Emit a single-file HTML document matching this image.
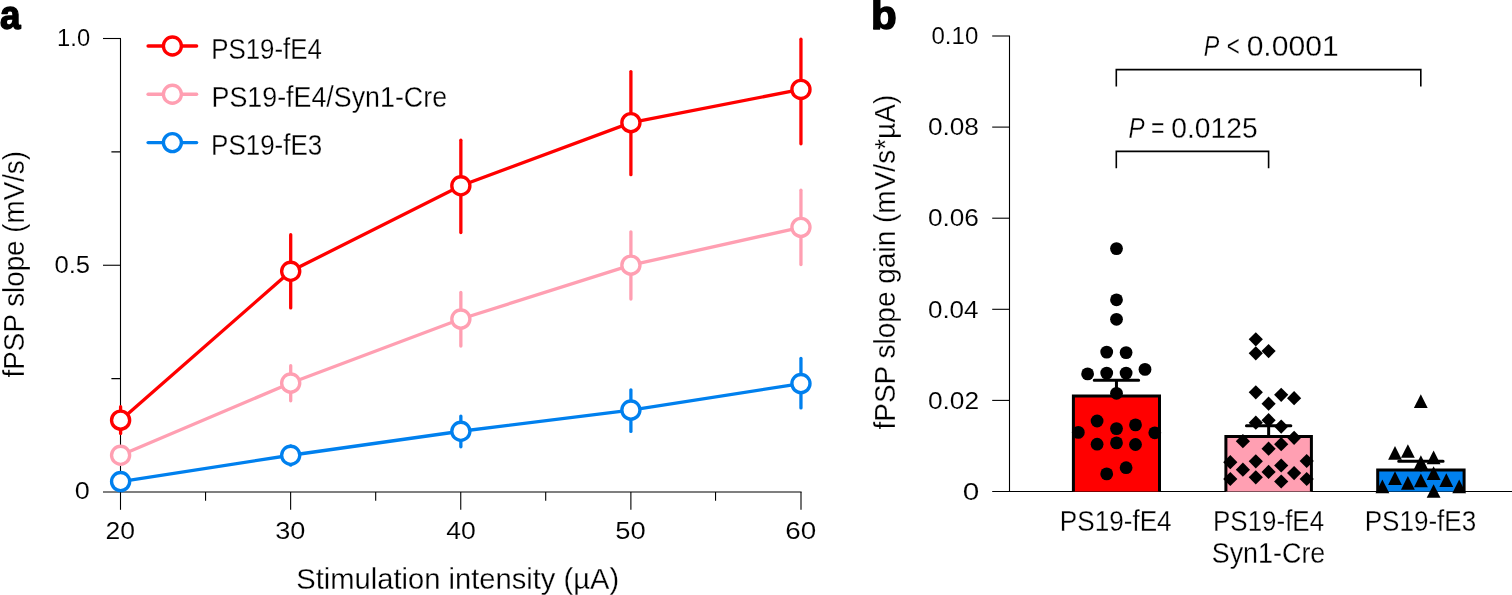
<!DOCTYPE html>
<html lang="en"><head><meta charset="utf-8"><title>fPSP slope figure</title>
<style>
html,body{margin:0;padding:0;background:#fff;}
body{width:1512px;height:595px;overflow:hidden;}
svg{display:block;}
svg text{font-family:"Liberation Sans",Arial,sans-serif;fill:#000;}
svg text.t{stroke:#fff;stroke-width:0.26px;}
svg text.k{stroke:#fff;stroke-width:0.1px;}
</style></head><body>
<svg width="1512" height="595" viewBox="0 0 1512 595">
<rect width="1512" height="595" fill="#fff"/>
<g stroke="#000" stroke-width="1.1" fill="none">
<path d="M120.5 38.5V492.0"/>
<path d="M103 38.5H121.0"/>
<path d="M103 265.25H120.5"/>
<path d="M111.4 151.9H120.5M111.4 378.6H120.5"/>
<path d="M103 492H801.6" stroke-width="1.2"/>
<path d="M120.5 492.0V509.8"/>
<path d="M290.63 492.0V509.8"/>
<path d="M460.75 492.0V509.8"/>
<path d="M630.88 492.0V509.8"/>
<path d="M801.0 492.0V509.8"/>
<path d="M205.56 492.0V500.7"/>
<path d="M375.69 492.0V500.7"/>
<path d="M545.70 492.0V500.7"/>
<path d="M715.55 492.0V500.7"/>
</g>
<text x="57.11" y="45.5" font-size="24.6" textLength="32.98" lengthAdjust="spacingAndGlyphs" class="k">1.0</text>
<text x="54.45" y="272.6" font-size="24.6" textLength="35.63" lengthAdjust="spacingAndGlyphs" class="k">0.5</text>
<text x="74.83" y="499.3" font-size="24.6" textLength="15.01" lengthAdjust="spacingAndGlyphs" class="k">0</text>
<text x="105.51" y="539.2" font-size="24.6" textLength="29.46" lengthAdjust="spacingAndGlyphs" class="k">20</text>
<text x="275.31" y="539.2" font-size="24.6" textLength="30.16" lengthAdjust="spacingAndGlyphs" class="k">30</text>
<text x="446.23" y="539.2" font-size="24.6" textLength="29.52" lengthAdjust="spacingAndGlyphs" class="k">40</text>
<text x="615.27" y="539.2" font-size="24.6" textLength="30.40" lengthAdjust="spacingAndGlyphs" class="k">50</text>
<text x="785.22" y="539.2" font-size="24.6" textLength="30.95" lengthAdjust="spacingAndGlyphs" class="k">60</text>
<text x="296.30" y="589" font-size="29" textLength="322.87" lengthAdjust="spacingAndGlyphs" class="t">Stimulation intensity (µA)</text>
<text x="211.16" y="59" font-size="29" textLength="110.77" lengthAdjust="spacingAndGlyphs" class="t">PS19-fE4</text>
<text x="211.53" y="107" font-size="29" textLength="235.56" lengthAdjust="spacingAndGlyphs" class="t">PS19-fE4/Syn1-Cre</text>
<text x="211.10" y="155" font-size="29" textLength="111.12" lengthAdjust="spacingAndGlyphs" class="t">PS19-fE3</text>
<text x="931.49" y="44.1" font-size="24.6" textLength="46.76" lengthAdjust="spacingAndGlyphs" class="k">0.10</text>
<text x="927.92" y="135.3" font-size="24.6" textLength="51.01" lengthAdjust="spacingAndGlyphs" class="k">0.08</text>
<text x="927.91" y="226.4" font-size="24.6" textLength="51.03" lengthAdjust="spacingAndGlyphs" class="k">0.06</text>
<text x="927.94" y="317.6" font-size="24.6" textLength="50.57" lengthAdjust="spacingAndGlyphs" class="k">0.04</text>
<text x="927.90" y="408.8" font-size="24.6" textLength="51.21" lengthAdjust="spacingAndGlyphs" class="k">0.02</text>
<text x="962.76" y="499.7" font-size="24.6" textLength="16.52" lengthAdjust="spacingAndGlyphs" class="k">0</text>
<text x="1203.64" y="55.8" font-size="29" textLength="15.50" lengthAdjust="spacingAndGlyphs" class="t" font-style="italic">P</text>
<text x="1226.83" y="55.8" font-size="29" textLength="13.02" lengthAdjust="spacingAndGlyphs" class="t">&lt;</text>
<text x="1246.65" y="55.8" font-size="29" textLength="91.96" lengthAdjust="spacingAndGlyphs" class="t">0.0001</text>
<text x="1128.62" y="137.5" font-size="29" textLength="16.08" lengthAdjust="spacingAndGlyphs" class="t" font-style="italic">P</text>
<text x="1150.93" y="137.5" font-size="29" textLength="13.45" lengthAdjust="spacingAndGlyphs" class="t">=</text>
<text x="1171.34" y="137.5" font-size="29" textLength="86.25" lengthAdjust="spacingAndGlyphs" class="t">0.0125</text>
<text x="1059.86" y="531" font-size="29" textLength="111.74" lengthAdjust="spacingAndGlyphs" class="t">PS19-fE4</text>
<text x="1213.06" y="531" font-size="29" textLength="111.03" lengthAdjust="spacingAndGlyphs" class="t">PS19-fE4</text>
<text x="1211.69" y="562.5" font-size="29" textLength="113.66" lengthAdjust="spacingAndGlyphs" class="t">Syn1-Cre</text>
<text x="1364.69" y="531" font-size="29" textLength="111.53" lengthAdjust="spacingAndGlyphs" class="t">PS19-fE3</text>
<text x="-0.08" y="29" font-size="40" textLength="20.52" lengthAdjust="spacingAndGlyphs" font-weight="bold" stroke="#000" stroke-width="1.5" stroke-linejoin="round">a</text>
<text x="871.14" y="29" font-size="40" textLength="25.73" lengthAdjust="spacingAndGlyphs" font-weight="bold" stroke="#000" stroke-width="1.5" stroke-linejoin="round">b</text>
<text class="t" transform="translate(23.7,377.38) rotate(-90)" font-size="29" textLength="226.40" lengthAdjust="spacingAndGlyphs">fPSP slope (mV/s)</text>
<text class="t" transform="translate(894.7,429.55) rotate(-90)" font-size="29" textLength="334.77" lengthAdjust="spacingAndGlyphs">fPSP slope gain (mV/s*µA)</text>
<path d="M148.1 46.00H196.6" stroke="#FF0000" stroke-width="3.4" stroke-linecap="round"/>
<circle cx="172.4" cy="46.00" r="9" fill="#fff" stroke="#FF0000" stroke-width="3.35"/>
<path d="M148.1 94.20H196.6" stroke="#FF9FB2" stroke-width="3.4" stroke-linecap="round"/>
<circle cx="172.4" cy="94.20" r="9" fill="#fff" stroke="#FF9FB2" stroke-width="3.35"/>
<path d="M148.1 142.60H196.6" stroke="#0080EE" stroke-width="3.4" stroke-linecap="round"/>
<circle cx="172.4" cy="142.60" r="9" fill="#fff" stroke="#0080EE" stroke-width="3.35"/>
<g transform="translate(0,0.35)" stroke="#FF0000" stroke-width="3.3" fill="none" stroke-linecap="round">
<path d="M120.6 406.3V433.2"/>
<path d="M290.7 234.4V307.6"/>
<path d="M460.85 139.9V232.2"/>
<path d="M630.9 71.2V174.3"/>
<path d="M800.95 38.9V143.4"/>
<path d="M120.6 419.8 L290.7 270.9 L460.85 185.4 L630.9 122.3 L800.95 89.1"/>
<circle cx="120.6" cy="419.8" r="9.05" fill="#fff" stroke-width="3.35"/>
<circle cx="290.7" cy="270.9" r="9.05" fill="#fff" stroke-width="3.35"/>
<circle cx="460.85" cy="185.4" r="9.05" fill="#fff" stroke-width="3.35"/>
<circle cx="630.9" cy="122.3" r="9.05" fill="#fff" stroke-width="3.35"/>
<circle cx="800.95" cy="89.1" r="9.05" fill="#fff" stroke-width="3.35"/>
</g>
<g transform="translate(0,0.35)" stroke="#FF9FB2" stroke-width="3.3" fill="none" stroke-linecap="round">
<path d="M290.7 365.4V400.4"/>
<path d="M460.85 292.1V345.7"/>
<path d="M630.9 231.5V298.7"/>
<path d="M800.95 189.8V264.2"/>
<path d="M120.6 454.9 L290.7 382.7 L460.85 318.7 L630.9 264.8 L800.95 227"/>
<circle cx="120.6" cy="454.9" r="9.05" fill="#fff" stroke-width="3.35"/>
<circle cx="290.7" cy="382.7" r="9.05" fill="#fff" stroke-width="3.35"/>
<circle cx="460.85" cy="318.7" r="9.05" fill="#fff" stroke-width="3.35"/>
<circle cx="630.9" cy="264.8" r="9.05" fill="#fff" stroke-width="3.35"/>
<circle cx="800.95" cy="227" r="9.05" fill="#fff" stroke-width="3.35"/>
</g>
<g transform="translate(0,0.35)" stroke="#0080EE" stroke-width="3.3" fill="none" stroke-linecap="round">
<path d="M290.7 445.6V464.8"/>
<path d="M460.85 415.7V446.4"/>
<path d="M630.9 389.5V431.1"/>
<path d="M800.95 358.1V407.6"/>
<path d="M120.6 481.2 L290.7 454.9 L460.85 430.9 L630.9 409.7 L800.95 383.2"/>
<circle cx="120.6" cy="481.2" r="9.05" fill="#fff" stroke-width="3.35"/>
<circle cx="290.7" cy="454.9" r="9.05" fill="#fff" stroke-width="3.35"/>
<circle cx="460.85" cy="430.9" r="9.05" fill="#fff" stroke-width="3.35"/>
<circle cx="630.9" cy="409.7" r="9.05" fill="#fff" stroke-width="3.35"/>
<circle cx="800.95" cy="383.2" r="9.05" fill="#fff" stroke-width="3.35"/>
</g>
<g stroke="#000" stroke-width="1.1" fill="none">
<path d="M1009.5 36.0V491.5"/>
<path d="M992.2 36.0H1010.0"/>
<path d="M992.2 127.1H1010.0"/>
<path d="M992.2 218.2H1010.0"/>
<path d="M992.2 309.3H1010.0"/>
<path d="M992.2 400.4H1010.0"/>
<path d="M992.2 491.5H1512"/>
</g>
<path d="M1073.4 491.5V396H1159.5V491.5" fill="#FF0000" stroke="#000" stroke-width="3"/>
<path d="M1116.45 396V380.3M1094.25 380.3H1138.65" stroke="#000" stroke-width="3" stroke-linecap="round" fill="none"/>
<path d="M1225.9 491.5V436.5H1311.4V491.5" fill="#FF9FB2" stroke="#000" stroke-width="3"/>
<path d="M1268.65 436.5V425.7M1246.45 425.7H1290.85" stroke="#000" stroke-width="3" stroke-linecap="round" fill="none"/>
<path d="M1377.7 491.5V470H1464.1V491.5" fill="#0080EE" stroke="#000" stroke-width="3"/>
<path d="M1420.90 470V461.2M1398.70 461.2H1443.10" stroke="#000" stroke-width="3" stroke-linecap="round" fill="none"/>
<circle cx="1116.5" cy="248.6" r="6.4"/>
<circle cx="1116.5" cy="299.8" r="6.4"/>
<circle cx="1116.5" cy="319.3" r="6.4"/>
<circle cx="1106.7" cy="352.1" r="6.4"/>
<circle cx="1126.1" cy="352.6" r="6.4"/>
<circle cx="1087.6" cy="373.9" r="6.4"/>
<circle cx="1106.7" cy="373.1" r="6.4"/>
<circle cx="1126.1" cy="373.1" r="6.4"/>
<circle cx="1145" cy="369.4" r="6.4"/>
<circle cx="1116.5" cy="393.3" r="6.4"/>
<circle cx="1097.1" cy="421" r="6.4"/>
<circle cx="1116.5" cy="428.6" r="6.4"/>
<circle cx="1135.5" cy="424.9" r="6.4"/>
<circle cx="1078.3" cy="432.4" r="6.4"/>
<circle cx="1154.8" cy="432.8" r="6.4"/>
<circle cx="1097.1" cy="444.2" r="6.4"/>
<circle cx="1116.5" cy="442.9" r="6.4"/>
<circle cx="1135.5" cy="444.5" r="6.4"/>
<circle cx="1126.1" cy="467.7" r="6.4"/>
<circle cx="1106.7" cy="473.9" r="6.4"/>
<path d="M1255.8 332.2L1262.9 339.3L1255.8 346.4L1248.7 339.3Z"/>
<path d="M1255.8 346.2L1262.9 353.3L1255.8 360.4L1248.7 353.3Z"/>
<path d="M1268.6 344.0L1275.7 351.1L1268.6 358.2L1261.5 351.1Z"/>
<path d="M1255.8 385.2L1262.9 392.3L1255.8 399.4L1248.7 392.3Z"/>
<path d="M1281.2 387.7L1288.3 394.8L1281.2 401.9L1274.1 394.8Z"/>
<path d="M1294.1 391.1L1301.2 398.2L1294.1 405.3L1287.0 398.2Z"/>
<path d="M1268.6 396.6L1275.7 403.7L1268.6 410.8L1261.5 403.7Z"/>
<path d="M1255.8 415.6L1262.9 422.7L1255.8 429.8L1248.7 422.7Z"/>
<path d="M1268.6 413.1L1275.7 420.2L1268.6 427.3L1261.5 420.2Z"/>
<path d="M1281.2 419.5L1288.3 426.6L1281.2 433.7L1274.1 426.6Z"/>
<path d="M1294.1 430.7L1301.2 437.8L1294.1 444.9L1287.0 437.8Z"/>
<path d="M1242.9 434.1L1250.0 441.2L1242.9 448.3L1235.8 441.2Z"/>
<path d="M1281.2 437.1L1288.3 444.2L1281.2 451.3L1274.1 444.2Z"/>
<path d="M1268.6 441.6L1275.7 448.7L1268.6 455.8L1261.5 448.7Z"/>
<path d="M1230.3 455.1L1237.4 462.2L1230.3 469.3L1223.2 462.2Z"/>
<path d="M1255.8 454.2L1262.9 461.3L1255.8 468.4L1248.7 461.3Z"/>
<path d="M1306.7 453.9L1313.8 461L1306.7 468.1L1299.6 461Z"/>
<path d="M1281.2 458.4L1288.3 465.5L1281.2 472.6L1274.1 465.5Z"/>
<path d="M1242.9 462.6L1250.0 469.7L1242.9 476.8L1235.8 469.7Z"/>
<path d="M1268.6 464.8L1275.7 471.9L1268.6 479.0L1261.5 471.9Z"/>
<path d="M1294.1 466.0L1301.2 473.1L1294.1 480.2L1287.0 473.1Z"/>
<path d="M1230.3 471.9L1237.4 479L1230.3 486.1L1223.2 479Z"/>
<path d="M1255.8 470.2L1262.9 477.3L1255.8 484.4L1248.7 477.3Z"/>
<path d="M1281.2 474.4L1288.3 481.5L1281.2 488.6L1274.1 481.5Z"/>
<path d="M1306.7 471.9L1313.8 479L1306.7 486.1L1299.6 479Z"/>
<path d="M1420.8 394.25L1427.7 407.95H1413.9Z"/>
<path d="M1395 445.95L1401.9 459.65H1388.1Z"/>
<path d="M1407.9 444.15L1414.8 457.85H1401.0Z"/>
<path d="M1433.6 450.45L1440.5 464.15H1426.7Z"/>
<path d="M1420.9 455.35L1427.8 469.05H1414.0Z"/>
<path d="M1433.6 466.25L1440.5 479.95H1426.7Z"/>
<path d="M1395 471.25L1401.9 484.95H1388.1Z"/>
<path d="M1420.9 473.55L1427.8 487.25H1414.0Z"/>
<path d="M1446.3 473.35L1453.2 487.05H1439.4Z"/>
<path d="M1407.9 475.95L1414.8 489.65H1401.0Z"/>
<path d="M1382.4 479.45L1389.3 493.15H1375.5Z"/>
<path d="M1459.2 479.45L1466.1 493.15H1452.3Z"/>
<path d="M1433.6 484.15L1440.5 497.85H1426.7Z"/>
<g stroke="#000" stroke-width="1.6" fill="none">
<path d="M1116.3 86.4V69.6H1420.8V86.4"/>
<path d="M1116.3 168.3V151.4H1268.6V168.3"/>
</g>
</svg>
</body></html>
